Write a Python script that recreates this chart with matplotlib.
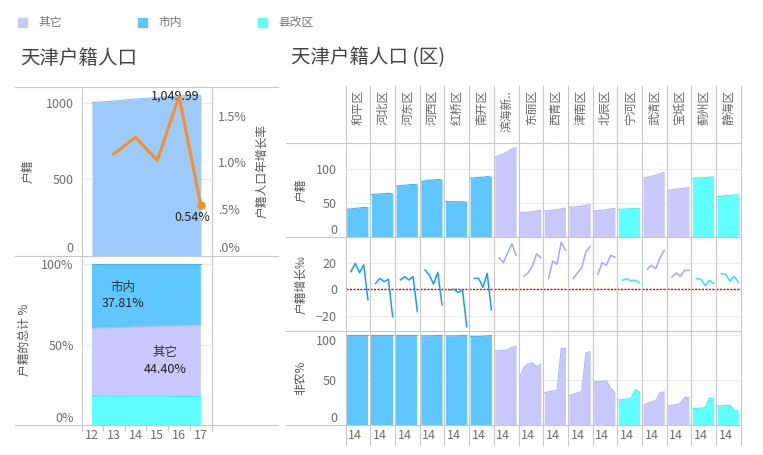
import numpy as np
import matplotlib.pyplot as plt
from matplotlib.lines import Line2D
from matplotlib.patches import Rectangle

plt.rcParams['font.family'] = ['Noto Sans CJK SC', 'DejaVu Sans']

W, H = 763, 455

# ---- data ----
years = [12, 13, 14, 15, 16, 17]
rate_years = [13, 14, 15, 16, 17]

tj_pop = [1000.5, 1011.4, 1024.2, 1034.6, 1044.4, 1049.99]   # 万人
tj_rate = [1.09, 1.27, 1.02, 1.71, 0.54]                     # %

share_county = [18.2, 18.1, 18.0, 17.9, 17.8, 17.79]
share_other = [42.2, 42.6, 43.1, 43.6, 44.1, 44.40]
share_city = [39.6, 39.3, 38.9, 38.5, 38.1, 37.81]

legend_names = ['其它', '市内', '县改区']
fill_col = {'其它': '#c8c8fd', '市内': '#5fc7fd', '县改区': '#5efffe'}
edge_col = {'其它': '#b4b4f8', '市内': '#3cb4f5', '县改区': '#3ef2f2'}
line_col = {'其它': '#a6a6ff', '市内': '#1c9cf2', '县改区': '#2ee8ec'}

districts = ['和平区', '河北区', '河东区', '河西区', '红桥区', '南开区', '滨海新..', '东丽区',
             '西青区', '津南区', '北辰区', '宁河区', '武清区', '宝坻区', '蓟州区', '静海区']
district_group = ['市内'] * 6 + ['其它'] * 5 + ['县改区', '其它', '其它', '县改区', '县改区']

pop = [
    [41.2, 41.8, 42.6, 43.1, 43.9, 43.5],
    [63.0, 63.3, 63.8, 64.2, 64.7, 63.6],
    [75.4, 75.9, 76.6, 77.2, 77.9, 76.8],
    [81.8, 83.0, 83.9, 84.2, 85.3, 84.3],
    [52.4, 52.4, 52.4, 52.3, 52.3, 51.2],
    [86.8, 87.5, 88.2, 88.3, 89.4, 88.2],
    [117.0, 120.0, 122.5, 126.0, 130.0, 132.0],
    [36.2, 36.6, 37.0, 37.6, 38.6, 39.5],
    [38.7, 39.0, 39.8, 40.6, 42.1, 43.0],
    [44.1, 44.5, 45.0, 45.7, 47.0, 48.0],
    [38.7, 39.1, 39.9, 40.6, 41.6, 42.6],
    [41.2, 41.5, 41.8, 42.1, 42.4, 42.6],
    [86.8, 88.1, 89.7, 91.1, 93.3, 95.6],
    [69.1, 69.7, 70.6, 71.3, 72.3, 73.0],
    [86.2, 86.9, 87.6, 87.9, 88.5, 88.9],
    [59.7, 60.4, 61.1, 61.5, 62.1, 62.4],
]

growth = [
    [13.4, 19.7, 12.6, 18.5, -8.1],
    [4.5, 8.3, 5.8, 7.6, -20.8],
    [7.1, 9.6, 7.1, 9.6, -17.0],
    [14.7, 10.9, 4.0, 12.9, -11.9],
    [-0.5, 0.0, -2.5, -0.5, -28.4],
    [8.3, 8.3, 1.5, 12.1, -15.7],
    [24.0, 20.2, 27.5, 34.6, 25.8],
    [9.9, 12.4, 17.5, 27.0, 24.0],
    [8.1, 21.5, 19.0, 35.9, 29.6],
    [8.1, 12.4, 16.4, 28.3, 32.6],
    [11.4, 20.2, 18.2, 25.8, 24.5],
    [6.8, 8.1, 6.3, 6.8, 5.0],
    [15.2, 18.2, 15.6, 24.0, 29.6],
    [9.3, 12.4, 9.9, 14.4, 14.4],
    [8.1, 7.6, 3.0, 6.8, 4.3],
    [11.8, 11.4, 6.3, 9.9, 5.5],
]

nonag = [
    [100, 100, 100, 100, 100, 100],
    [100, 100, 100, 100, 100, 100],
    [100, 100, 100, 100, 100, 100],
    [99.6, 99.6, 99.7, 99.8, 100, 100],
    [99.5, 99.5, 99.6, 99.7, 99.9, 100],
    [99.0, 99.0, 99.0, 99.2, 99.6, 100],
    [83.0, 83.0, 83.5, 84.0, 87.0, 88.0],
    [52.0, 64.6, 68.0, 69.5, 64.6, 68.0],
    [36.0, 37.0, 38.0, 38.5, 85.6, 85.6],
    [32.4, 34.5, 36.0, 37.2, 80.8, 81.9],
    [48.4, 48.5, 48.6, 49.5, 41.0, 36.0],
    [27.9, 28.3, 28.9, 29.8, 39.8, 36.5],
    [21.2, 24.2, 25.7, 27.2, 36.1, 36.9],
    [21.2, 21.9, 22.9, 24.2, 30.9, 30.9],
    [18.6, 18.6, 18.8, 19.3, 30.2, 29.8],
    [21.2, 21.5, 21.8, 22.3, 16.0, 15.6],
]

GRID = '#c8c8c8'
LIGHT = '#ececec'
TICK = '#6e6e6e'
TITLE = '#555555'

fig = plt.figure(figsize=(W / 100, H / 100), dpi=100)


def box(x0, y0, x1, y1):
    return [x0 / W, 1 - y1 / H, (x1 - x0) / W, (y1 - y0) / H]


def hline(y, x0, x1):
    fig.add_artist(Line2D([x0 / W, x1 / W], [1 - y / H] * 2, color=GRID, lw=0.8))


def vline(x, y0, y1):
    fig.add_artist(Line2D([x / W] * 2, [1 - y0 / H, 1 - y1 / H], color=GRID, lw=0.8))


def ftext(x, y, s, **kw):
    fig.text(x / W, 1 - y / H, s, **kw)


def clean(ax):
    for s in ax.spines.values():
        s.set_visible(False)
    ax.tick_params(length=0, labelsize=9, labelcolor=TICK)
    ax.set_facecolor('none')


# ---- legend + titles ----
lx = [18, 138, 258]
for name, x in zip(legend_names, lx):
    fig.add_artist(Rectangle((x / W, 1 - 27 / H), 8.5 / W, 9 / H,
                             color=fill_col[name], transform=fig.transFigure))
    ftext(x + 20, 22.5, name, fontsize=8.5, color='#777777', va='center')

ftext(20, 58, '天津户籍人口', fontsize=14, color='#444444', va='center')
ftext(291, 58, '天津户籍人口 (区)', fontsize=14, color='#444444', va='center')

# ---- left: total population + growth rate ----
ax1 = fig.add_axes(box(82, 87, 211.7, 255.5))
ax1.fill_between(years, tj_pop, color='#9dcbf9', lw=0)
ax1.plot(years, tj_pop, color='#8cc2f7', lw=0.8)
ax1.set_xlim(11.54, 17.5)
ax1.set_ylim(0, 1103)
ax1.set_yticks([0, 500, 1000])
ax1.set_xticks([])
ax1.yaxis.grid(True, color=LIGHT, lw=0.8)
ax1.set_axisbelow(True)
clean(ax1)
ax1.tick_params(axis='y', pad=6)
ax1.get_yticklabels()[0].set_va('bottom')
ax1.annotate(f'{tj_pop[-1]:,.2f}', xy=(17, tj_pop[-1]), xytext=(-26, -1),
             textcoords='offset pixels', ha='center', va='center', fontsize=9, color='#222222')

ax1r = ax1.twinx()
ax1r.plot(rate_years, tj_rate, color='#f58f2e', lw=2.2)
ax1r.plot(rate_years[-1:], tj_rate[-1:], 'o', color='#f58f2e', ms=5)
ax1r.set_ylim(0, 1.81)
ax1r.set_yticks([0, 0.5, 1.0, 1.5])
ax1r.set_yticklabels(['.0%', '.5%', '1.0%', '1.5%'])
clean(ax1r)
ax1r.tick_params(axis='y', pad=4.8)
ax1r.get_yticklabels()[0].set_va('bottom')
ax1r.annotate(f'{tj_rate[-1]:.2f}%', xy=(17, tj_rate[-1]), xytext=(-9, -12),
              textcoords='offset pixels', ha='center', va='center', fontsize=9, color='#222222')

ftext(28, 171, '户籍', rotation=90, fontsize=8.5, color=TITLE, ha='center', va='center')
ftext(262, 171, '户籍人口年增长率', rotation=90, fontsize=8.5, color=TITLE, ha='center', va='center')

# ---- left: share of total ----
ax2 = fig.add_axes(box(82, 255.5, 211.7, 425))
ax2.stackplot(years, share_county, share_other, share_city,
              colors=[fill_col['县改区'], fill_col['其它'], fill_col['市内']], lw=0)
tops = np.cumsum([share_county, share_other, share_city], axis=0)
for t, name in zip(tops, ['县改区', '其它', '市内']):
    ax2.plot(years, t, color=edge_col[name], lw=0.8)
ax2.set_xlim(11.54, 17.5)
ax2.set_ylim(0, 105.6)
ax2.set_yticks([0, 50, 100])
ax2.set_yticklabels(['0%', '50%', '100%'])
ax2.set_xticks(years)
ax2.set_xticklabels([str(y) for y in years])
ax2.yaxis.grid(True, color=LIGHT, lw=0.8)
ax2.set_axisbelow(True)
clean(ax2)
ax2.tick_params(axis='y', pad=6)
ax2.tick_params(axis='x', pad=3)
ax2.set_xticks([12.5, 13.5, 14.5, 15.5, 16.5], minor=True)
ax2.tick_params(which='minor', axis='x', length=4, width=0.8, color=GRID, direction='out')
ax2.get_yticklabels()[0].set_va('bottom')
ax2.text(13.42, 85.9, '市内', ha='center', va='center', fontsize=9, color='#333333')
ax2.text(13.42, 75.4, f'{share_city[-1]:.2f}%', ha='center', va='center', fontsize=9, color='#222222')
ax2.text(15.36, 44.9, '其它', ha='center', va='center', fontsize=9, color='#333333')
ax2.text(15.36, 34.8, f'{share_other[-1]:.2f}%', ha='center', va='center', fontsize=9, color='#222222')

ftext(24, 340, '户籍的总计 %', rotation=90, fontsize=8.5, color=TITLE, ha='center', va='center')

# ---- right: district small multiples ----
x_left = 345.7
cw = 24.69
rows = [(143.3, 237.3), (237.3, 331.0), (331.0, 425.0)]
row_ylim = [(0, 138.2), (-31.7, 39.5), (0, 105)]
row_ticks = [[0, 50, 100], [-20, 0, 20], [0, 50, 100]]
row_titles = ['户籍', '户籍增长‰', '非农%']

for r, (top, bot) in enumerate(rows):
    for i, name in enumerate(districts):
        g = district_group[i]
        x0 = x_left + i * cw
        ax = fig.add_axes(box(x0, top, x0 + cw, bot))
        if r == 0:
            ax.fill_between(years, pop[i], color=fill_col[g], lw=0)
            ax.plot(years, pop[i], color=edge_col[g], lw=0.8)
        elif r == 1:
            ax.axhline(0, color='#e60000', lw=1.0, ls=(0, (1.5, 1.0)), zorder=1)
            ax.plot(rate_years, growth[i], color=line_col[g], lw=1.1, zorder=3)
        else:
            ax.fill_between(years, nonag[i], color=fill_col[g], lw=0)
            ax.plot(years, nonag[i], color=edge_col[g], lw=0.8)
        ax.set_xlim(11.76, 17.57)
        ax.set_ylim(*row_ylim[r])
        ax.set_yticks(row_ticks[r])
        ax.yaxis.grid(True, color=LIGHT, lw=0.8)
        ax.set_axisbelow(True)
        clean(ax)
        if i == 0:
            ax.tick_params(axis='y', pad=6.3)
            if r != 1:
                ax.get_yticklabels()[0].set_va('bottom')
            if r == 2:
                ax.get_yticklabels()[-1].set_va('top')
        else:
            ax.tick_params(axis='y', labelleft=False)
        if r == 2:
            ax.set_xticks([14])
            ax.set_xticklabels(['14'])
            ax.tick_params(axis='x', pad=3)
        else:
            ax.set_xticks([])
    ftext(301, (top + bot) / 2, row_titles[r], rotation=90, fontsize=8.5,
          color=TITLE, ha='center', va='center')

for i, name in enumerate(districts):
    ftext(x_left + (i + 0.5) * cw + 0.5, 90, name, rotation=90, fontsize=8.5,
          color='#666666', ha='center', va='top')

# ---- borders ----
for y in (87, 255.5, 425):
    hline(y, 15, 278)
vline(82, 87, 431)
vline(211.7, 87, 431)
for y in (143.3, 237.3, 331.0, 425.0):
    hline(y, 286, x_left + 16 * cw)
for i in range(17):
    vline(x_left + i * cw, 86, 445)

fig.savefig('out.png', dpi=100)
